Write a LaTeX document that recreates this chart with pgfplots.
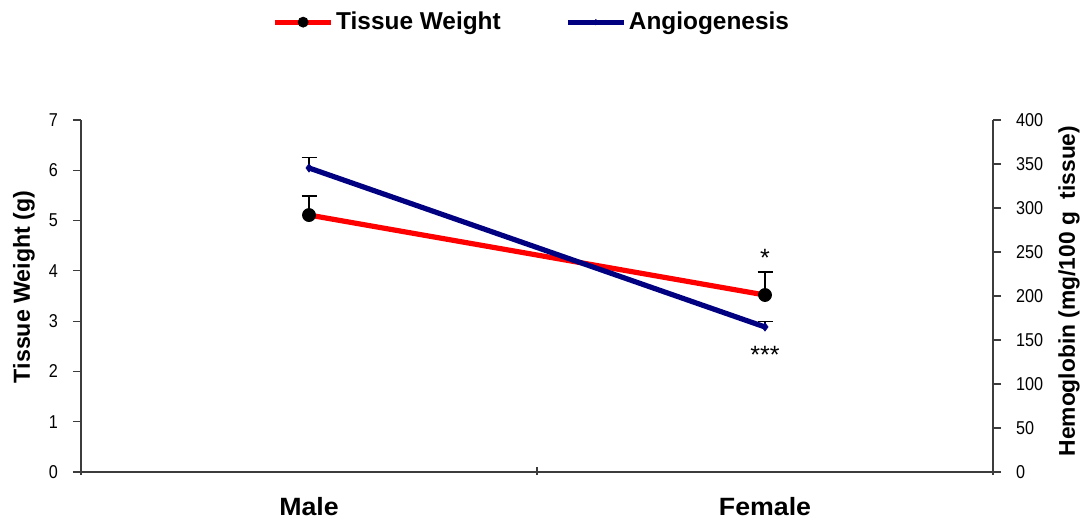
\documentclass[border=0pt]{standalone}
\usepackage{pgfplots}
\pgfplotsset{compat=1.18}
\usepackage{fontspec}
\setmainfont{Liberation Sans}
\newfontfamily\narrowfont[FakeStretch=0.87]{Liberation Sans}
\newfontfamily\widefont[FakeStretch=1.07]{Liberation Sans}
\definecolor{twred}{RGB}{255,0,0}
\definecolor{angblue}{RGB}{0,0,128}
\definecolor{axgray}{RGB}{60,60,60}
\begin{document}
\begin{tikzpicture}
\pgfplotsset{
  common/.style={
    at={(0,0)}, anchor=south west,
    scale only axis, width=456pt, height=176pt,
    xmin=0, xmax=2,
    axis line style={axgray, line width=0.6pt},
    tick style={axgray, line width=0.6pt},
    major tick length=4pt,
    tick align=outside,
    /pgf/number format/assume math mode=true,
    yticklabel style={font=\narrowfont\fontsize{9.3}{11}\selectfont},
  },
}
\begin{axis}[common,
  ymin=0, ymax=7,
  axis y line*=left, axis x line*=bottom,
  ytick={0,1,...,7},
  xtick={0,1,2}, xticklabels={},
  xtick style={yshift=2.5pt},
  extra x ticks={0.5,1.5},
  extra x tick labels={Male,Female},
  extra x tick style={major tick length=0pt,
     tick label style={font=\widefont\bfseries\fontsize{12.5}{14}\selectfont, yshift=-9pt}},
  yticklabel style={xshift=-4pt},
  ylabel={Tissue Weight (g)},
  ylabel style={at={(axis description cs:-0.0625,0.526)}, anchor=center, font=\bfseries\fontsize{11.6}{13}\selectfont},
  legend columns=2,
  legend style={at={(axis description cs:0.4945,1.278)}, anchor=center, draw=none,
     font=\bfseries\fontsize{12.2}{14}\selectfont,
     nodes={inner sep=1.25pt},
     /tikz/every even column/.append style={column sep=31pt}},
  legend image code/.code={\draw[mark repeat=2, mark phase=2, #1] plot coordinates {(0pt,0pt)(14pt,0pt)(28pt,0pt)};},
]
\addplot[twred, line width=2.6pt, mark=*, mark size=3.25pt, mark options={black, fill=black, line width=0.4pt},
  forget plot,
  error bars/.cd, y dir=plus, y explicit,
  error bar style={black, line width=0.7pt},
  error mark options={rotate=90, black, mark size=3.75pt, line width=0.7pt}]
  coordinates {(0.5,5.11) +- (0,0.38) (1.5,3.52) +- (0,0.46)};
\addlegendimage{twred, line width=2.6pt, mark=*, mark size=2.5pt, mark options={black, fill=black, line width=0.4pt}}
\addlegendentry{Tissue Weight}
\addlegendimage{angblue, line width=2.6pt, mark=diamond*, mark size=1.3pt, mark options={angblue, fill=angblue, line width=0.4pt}}
\addlegendentry{Angiogenesis}
\node[font=\fontsize{12.5}{14}\selectfont] at (axis cs:1.5,4.25) {*};
\node[font=\fontsize{12.5}{14}\selectfont] at (axis cs:1.5,2.32) {***};
\end{axis}
\begin{axis}[common,
  ymin=0, ymax=400,
  axis y line*=right, axis x line=none,
  ytick={0,50,...,400},
  yticklabel style={xshift=4pt},
  ylabel={Hemoglobin (mg/100 g~~tissue)},
  ylabel style={at={(axis description cs:1.0833,0.514)}, anchor=center, font=\bfseries\fontsize{11.4}{13}\selectfont},
]
\addplot[angblue, line width=2.6pt, mark=diamond*, mark size=2pt, mark options={angblue, fill=angblue, line width=0.4pt},
  error bars/.cd, y dir=plus, y explicit,
  error bar style={black, line width=0.7pt},
  error mark options={rotate=90, black, mark size=3.75pt, line width=0.7pt}]
  coordinates {(0.5,345.5) +- (0,12) (1.5,164.8) +- (0,6)};
\end{axis}
\pgfresetboundingbox
\path (-40.5pt,-24pt) rectangle (500pt,236pt);
\end{tikzpicture}
\end{document}
